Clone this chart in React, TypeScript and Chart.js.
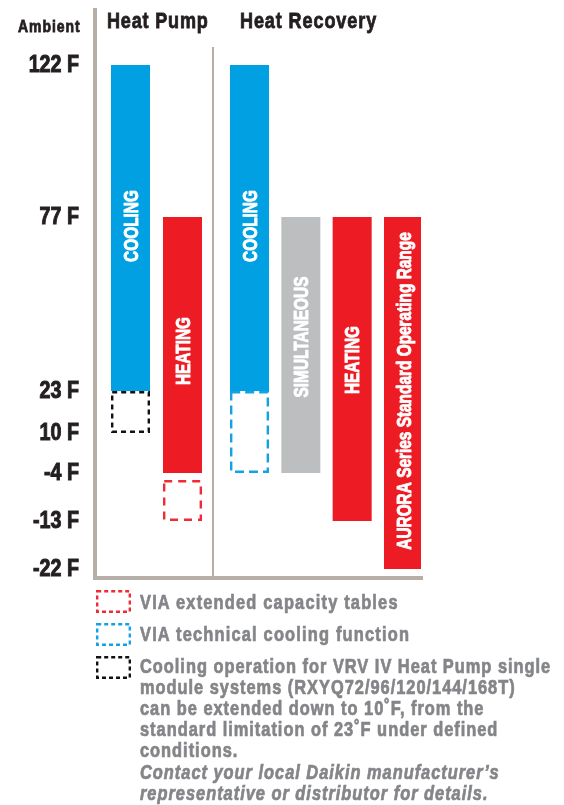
import React, { useEffect, useRef } from 'react';
import { Chart, registerables, LinearScale } from 'chart.js';

const FONT = '"Liberation Sans", Arial, sans-serif';
const NARROW = 0.82; // horizontal compression to emulate a condensed face

// ---------- data ----------
const GROUPS = ['Heat Pump', 'Heat Recovery'];
const GROUP_INDEX = [0, 1];
const Y_TICKS = [122, 77, 23, 10, -4, -13, -22];

const BAR_LABELS = ['COOLING', 'HEATING', 'COOLING', 'SIMULTANEOUS', 'HEATING', 'AURORA Series Standard Operating Range'];
const BAR_GROUP = [0, 0, 1, 1, 1, 1];
const BAR_LOW = [23, -4, 23, -4, -13, -22];
const BAR_HIGH = [122, 77, 122, 77, 77, 77];

const EXT_NAMES = ['VIA extended capacity tables', 'VIA technical cooling function', 'Cooling operation extension'];
const EXT_BAR = [1, 2, 0];
const EXT_LOW = [-13, -4, 10];
const EXT_HIGH = [-4, 23, 23];

const NOTE_LINES = [
  'Cooling operation for VRV IV Heat Pump single',
  'module systems (RXYQ72/96/120/144/168T)',
  'can be extended down to 10\u02DAF, from the',
  'standard limitation of 23\u02DAF under defined',
  'conditions.',
];
const NOTE_ITALIC_LINES = [
  'Contact your local Daikin manufacturer\u2019s',
  'representative or distributor for details.',
];

// ---------- styles ----------
const BAR_COLORS = ['#00a0e3', '#ed1c24', '#00a0e3', '#bcbec0', '#ed1c24', '#ed1c24'];
const LABEL_SHIFT = [-2, 6, -2, -8, -9, -2];
const EXT_COLORS = ['#ef2b35', '#15a2e4', '#111111'];
const EXT_DASH = [[8, 6], [9, 5], [5, 4]];
const EXT_INSET_TOP = [7, 0, 0];
const GROUP_CAT_PCT = [0.6118, 1.2078];
const GROUP_BAR_PCT = [0.75, 0.76];
const AXIS_GRAY = '#b7afa7';
const TEXT_DARK = '#231f20';
const LEGEND_GRAY = '#848588';
const TICK_PADDING = 16;

// y scale layout: pixel weight of each tick-to-tick segment, plus padding above/below
const Y_SEGMENT_PX = [152, 174, 42, 40, 48, 48];
const Y_PAD_TOP = 55;
const Y_PAD_BOTTOM = 9;

class SegmentedScale extends LinearScale {
  static id = 'segmented';
  static defaults = {};
  buildTicks() {
    return Y_TICKS.map((v) => ({ value: v }));
  }
  _total() {
    return Y_PAD_TOP + Y_SEGMENT_PX.reduce((a, b) => a + b, 0) + Y_PAD_BOTTOM;
  }
  getPixelForValue(value: any) {
    if (value === null || value === undefined || isNaN(value)) return NaN;
    const k = Y_TICKS;
    const n = k.length;
    const inner = Y_SEGMENT_PX.reduce((a, b) => a + b, 0);
    let off = 0;
    if (value >= k[0]) {
      off = Y_PAD_TOP - (value - k[0]) * (Y_SEGMENT_PX[0] / (k[0] - k[1]));
    } else if (value <= k[n - 1]) {
      off = Y_PAD_TOP + inner + (k[n - 1] - value) * (Y_SEGMENT_PX[n - 2] / (k[n - 2] - k[n - 1]));
    } else {
      let acc = Y_PAD_TOP;
      for (let i = 0; i < n - 1; i++) {
        if (value <= k[i] && value >= k[i + 1]) {
          off = acc + ((k[i] - value) / (k[i] - k[i + 1])) * Y_SEGMENT_PX[i];
          break;
        }
        acc += Y_SEGMENT_PX[i];
      }
    }
    return (this as any).top + (off / this._total()) * (this as any).height;
  }
  getValueForPixel(pixel: number) {
    const off = ((pixel - (this as any).top) / (this as any).height) * this._total();
    const k = Y_TICKS;
    let acc = Y_PAD_TOP;
    if (off <= acc) return k[0] + (acc - off) * ((k[0] - k[1]) / Y_SEGMENT_PX[0]);
    for (let i = 0; i < k.length - 1; i++) {
      if (off <= acc + Y_SEGMENT_PX[i]) return k[i] - ((off - acc) / Y_SEGMENT_PX[i]) * (k[i] - k[i + 1]);
      acc += Y_SEGMENT_PX[i];
    }
    const last = k.length - 1;
    return k[last] - (off - acc) * ((k[last - 1] - k[last]) / Y_SEGMENT_PX[last - 1]);
  }
  drawLabels(chartArea: any) {
    const ctx = (this as any).ctx;
    const x = (this as any).right - TICK_PADDING;
    ctx.save();
    ctx.translate(x, 0);
    ctx.scale(NARROW, 1);
    ctx.translate(-x, 0);
    super.drawLabels(chartArea);
    ctx.restore();
  }
}

Chart.register(...registerables, SegmentedScale);

const barDecor = {
  id: 'barDecor',
  afterDatasetsDraw(chart: any) {
    const ctx = chart.ctx;
    chart.data.datasets.forEach((ds: any, di: number) => {
      const meta = chart.getDatasetMeta(di);
      meta.data.forEach((el: any, i: number) => {
        const parsed = meta.controller.getParsed(i);
        if (!parsed || parsed.y === null || parsed.y === undefined || isNaN(parsed.y)) return;
        const { x, y, base, width } = el.getProps(['x', 'y', 'base', 'width'], true);
        const top = Math.min(y, base);
        const bottom = Math.max(y, base);
        ctx.save();
        if (ds.dashColor) {
          const lw = 2.4;
          ctx.strokeStyle = ds.dashColor;
          ctx.lineWidth = lw;
          ctx.setLineDash(ds.dash);
          const t = top + (ds.insetTop || 0);
          ctx.strokeRect(x - width / 2 + lw / 2, t + lw / 2, width - lw, bottom - t - lw);
        } else {
          const size = 20;
          ctx.font = `bold ${size}px ${FONT}`;
          ctx.fillStyle = '#ffffff';
          ctx.strokeStyle = '#ffffff';
          ctx.lineWidth = 0.9;
          ctx.lineJoin = 'round';
          ctx.textAlign = 'center';
          ctx.textBaseline = 'alphabetic';
          ctx.translate(x, (top + bottom) / 2 + (ds.labelShift || 0));
          ctx.rotate(-Math.PI / 2);
          ctx.scale(0.77, 1);
          const yOff = (size * 0.716) / 2;
          ctx.fillText(ds.label, 0, yOff);
          ctx.strokeText(ds.label, 0, yOff);
        }
        ctx.restore();
      });
    });
    // divider between the two groups
    const hp = chart.getDatasetMeta(1).data[0];
    const hr = chart.getDatasetMeta(2).data[1];
    if (hp && hr) {
      const xd = Math.round((hp.x + hp.width / 2 + hr.x - hr.width / 2) / 2) - 3;
      ctx.save();
      ctx.strokeStyle = AXIS_GRAY;
      ctx.lineWidth = 2;
      ctx.beginPath();
      ctx.moveTo(xd, chart.chartArea.top + 37);
      ctx.lineTo(xd, chart.chartArea.bottom);
      ctx.stroke();
      ctx.restore();
    }
  },
};

function Swatch({ color, dash }: { color: string; dash: number[] }) {
  return (
    <svg width={35} height={23} style={{ position: 'absolute', left: 0, top: 0 }}>
      <rect x={1.2} y={1.2} width={32.6} height={20.6} fill="none" stroke={color} strokeWidth={2.4} strokeDasharray={dash.join(' ')} />
    </svg>
  );
}

function Narrow({ left, top, size, spacing, color, children, lh, stroke }: any) {
  return (
    <div
      style={{
        position: 'absolute',
        left,
        top,
        fontSize: size,
        lineHeight: (lh || size) + 'px',
        letterSpacing: spacing,
        fontWeight: 700,
        whiteSpace: 'nowrap',
        color,
        WebkitTextStroke: `${stroke || 0.8}px ${color}`,
        transform: `scaleX(${NARROW})`,
        transformOrigin: '0 0',
      }}
    >
      {children}
    </div>
  );
}

export default function App() {
  const ref = useRef<HTMLCanvasElement>(null);
  useEffect(() => {
    if (!ref.current) return;
    const barDatasets = BAR_LABELS.map((label, i) => ({
      type: 'bar',
      label,
      data: GROUP_INDEX.map((g) => ({ x: g, y: g === BAR_GROUP[i] ? [BAR_LOW[i], BAR_HIGH[i]] : null })),
      backgroundColor: BAR_COLORS[i],
      borderWidth: 0,
      stack: 's' + i,
      skipNull: true,
      categoryPercentage: GROUP_CAT_PCT[BAR_GROUP[i]],
      barPercentage: GROUP_BAR_PCT[BAR_GROUP[i]],
      labelShift: LABEL_SHIFT[i],
    }));
    const extDatasets = EXT_NAMES.map((label, j) => {
      const g0 = BAR_GROUP[EXT_BAR[j]];
      return {
        type: 'bar',
        label,
        data: GROUP_INDEX.map((g) => ({ x: g, y: g === g0 ? [EXT_LOW[j], EXT_HIGH[j]] : null })),
        backgroundColor: 'rgba(0,0,0,0)',
        borderWidth: 0,
        stack: 's' + EXT_BAR[j],
        skipNull: true,
        categoryPercentage: GROUP_CAT_PCT[g0],
        barPercentage: GROUP_BAR_PCT[g0],
        dashColor: EXT_COLORS[j],
        dash: EXT_DASH[j],
        insetTop: EXT_INSET_TOP[j],
      };
    });
    const chart = new Chart(ref.current, {
      type: 'bar',
      data: { datasets: [...barDatasets, ...extDatasets] as any },
      options: {
        responsive: false,
        animation: false,
        events: [],
        layout: { padding: { left: 0, top: 10, right: 143, bottom: 227 } },
        plugins: { legend: { display: false }, tooltip: { enabled: false }, title: { display: false } },
        scales: {
          x: {
            type: 'linear',
            offset: false,
            min: -0.3618,
            max: 1.5559,
            afterBuildTicks: (scale: any) => {
              scale.ticks = GROUP_INDEX.map((v) => ({ value: v }));
            },
            ticks: { display: false },
            grid: { display: false, drawTicks: false, lineWidth: 4, offset: false },
            border: { display: true, width: 4, color: AXIS_GRAY },
          },
          y: {
            type: 'segmented' as any,
            stacked: false,
            ticks: {
              autoSkip: false,
              padding: TICK_PADDING,
              color: TEXT_DARK,
              textStrokeColor: TEXT_DARK,
              textStrokeWidth: 1,
              font: { family: FONT, size: 24, weight: 'bold' },
              callback: (v: any) => `${v} F`,
            },
            afterFit: (scale: any) => {
              scale.width = 95;
              scale.paddingTop = 0;
              scale.paddingBottom = 0;
            },
            grid: { display: false, drawTicks: false, lineWidth: 4 },
            border: { display: true, width: 4, color: AXIS_GRAY },
          } as any,
        },
      } as any,
      plugins: [barDecor],
    });
    return () => chart.destroy();
  }, []);

  const legendTops = [590, 623, 656];
  return (
    <div style={{ position: 'absolute', left: 0, top: 0, width: 564, height: 805, background: '#fff', fontFamily: FONT, overflow: 'hidden' }}>
      <canvas ref={ref} width={564} height={805} style={{ position: 'absolute', left: 0, top: 0 }} />
      <Narrow left={18} top={17.9} size={17} spacing={1.2} color={TEXT_DARK}>Ambient</Narrow>
      <Narrow left={107} top={9.7} size={22} spacing={1.0} color={TEXT_DARK}>{GROUPS[0]}</Narrow>
      <Narrow left={240} top={9.7} size={22} spacing={1.1} color={TEXT_DARK}>{GROUPS[1]}</Narrow>
      {EXT_NAMES.map((name, j) => (
        <div key={name} style={{ position: 'absolute', left: 96, top: legendTops[j], width: 35, height: 23 }}>
          <Swatch color={EXT_COLORS[j]} dash={[4, 3]} />
        </div>
      ))}
      <Narrow left={140} top={591.8} size={20} lh={21.2} spacing={1.45} stroke={0.7} color={LEGEND_GRAY}>{EXT_NAMES[0]}</Narrow>
      <Narrow left={140} top={624} size={20} lh={21.2} spacing={1.45} stroke={0.7} color={LEGEND_GRAY}>{EXT_NAMES[1]}</Narrow>
      <Narrow left={140} top={655.6} size={20} lh={21.2} spacing={1.2} stroke={0.7} color={LEGEND_GRAY}>
        {NOTE_LINES.map((l) => (
          <div key={l}>{l}</div>
        ))}
        {NOTE_ITALIC_LINES.map((l) => (
          <div key={l} style={{ fontStyle: 'italic' }}>{l}</div>
        ))}
      </Narrow>
    </div>
  );
}
